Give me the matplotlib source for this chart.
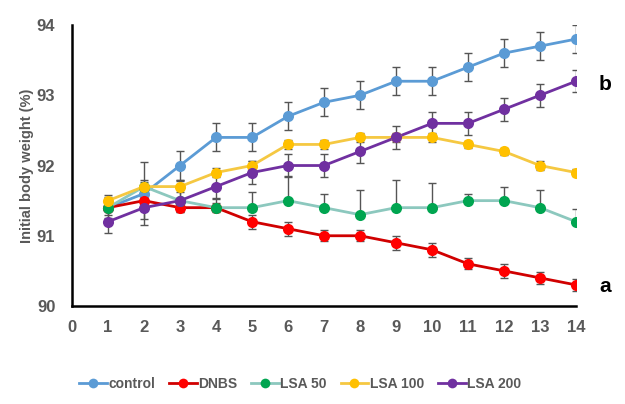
import matplotlib
matplotlib.use("Agg")
import matplotlib.pyplot as plt
from matplotlib.lines import Line2D
import numpy as np

days = list(range(1, 15))
control = [91.4, 91.6, 92.0, 92.4, 92.4, 92.7, 92.9, 93.0, 93.2, 93.2, 93.4, 93.6, 93.7, 93.8]
control_err = [0.15, 0.45, 0.2, 0.2, 0.2, 0.2, 0.2, 0.2, 0.2, 0.2, 0.2, 0.2, 0.2, 0.2]
dnbs = [91.4, 91.5, 91.4, 91.4, 91.2, 91.1, 91.0, 91.0, 90.9, 90.8, 90.6, 90.5, 90.4, 90.3]
dnbs_err = [0.1, 0.1, 0.06, 0.06, 0.1, 0.1, 0.08, 0.08, 0.1, 0.1, 0.08, 0.1, 0.08, 0.08]
lsa50 = [91.4, 91.7, 91.5, 91.4, 91.4, 91.5, 91.4, 91.3, 91.4, 91.4, 91.5, 91.5, 91.4, 91.2]
lsa50_err = [0.05, 0.1, 0.3, 0.12, 0.22, 0.35, 0.2, 0.35, 0.4, 0.35, 0.1, 0.2, 0.25, 0.18]
lsa100 = [91.5, 91.7, 91.7, 91.9, 92.0, 92.3, 92.3, 92.4, 92.4, 92.4, 92.3, 92.2, 92.0, 91.9]
lsa100_err = [0.08, 0.06, 0.08, 0.06, 0.06, 0.06, 0.06, 0.06, 0.06, 0.06, 0.05, 0.05, 0.06, 0.05]
lsa200 = [91.2, 91.4, 91.5, 91.7, 91.9, 92.0, 92.0, 92.2, 92.4, 92.6, 92.6, 92.8, 93.0, 93.2]
lsa200_err = [0.16, 0.16, 0.16, 0.16, 0.16, 0.16, 0.16, 0.16, 0.16, 0.16, 0.16, 0.16, 0.16, 0.16]

series_names = ["control", "DNBS", "LSA 50", "LSA 100", "LSA 200"]
line_colors = ["#5B9BD5", "#D00000", "#8CC8BE", "#F5C842", "#7030A0"]
marker_colors = ["#5B9BD5", "#FF0000", "#00A550", "#FFC000", "#7030A0"]

plt.rcParams['font.family'] = ['Liberation Sans', 'DejaVu Sans']
fig = plt.figure(figsize=(6.25, 4.04), dpi=100)
ax = fig.add_axes([0.1152, 0.2426, 0.8064, 0.6954])

data = [(control, control_err, False), (dnbs, dnbs_err, False), (lsa50, lsa50_err, True),
        (lsa100, lsa100_err, False), (lsa200, lsa200_err, False)]
for (vals, err, upper_only), lc, mc in zip(data, line_colors, marker_colors):
    vals = np.array(vals); err = np.array(err)
    yerr = [np.zeros_like(err), err] if upper_only else err
    ax.errorbar(days, vals, yerr=yerr, fmt='none', ecolor='#555555', elinewidth=1,
                capsize=3, capthick=1, zorder=2)
    ax.plot(days, vals, color=lc, lw=2, zorder=3)
    ax.plot(days, vals, 'o', color=mc, markersize=8, zorder=4, markeredgewidth=0)

ax.set_xlim(0, 14)
ax.set_ylim(90, 94)
ax.set_xticks(range(0, 15))
ax.set_yticks([90, 91, 92, 93, 94])
for s in ['top', 'right']:
    ax.spines[s].set_visible(False)
for s in ['left', 'bottom']:
    ax.spines[s].set_linewidth(1.8)
    ax.spines[s].set_color('black')
ax.tick_params(axis='both', length=0, labelsize=12, labelcolor='#595959')
ax.tick_params(axis='x', pad=10)
ax.tick_params(axis='y', pad=12)
for lbl in ax.get_xticklabels() + ax.get_yticklabels():
    lbl.set_fontweight('bold')
ax.set_ylabel("Initial body weight (%)", fontsize=10.5, fontweight='bold', color='#595959')
ax.yaxis.set_label_coords(-0.075, 0.5)

ax.text(14.8, 93.15, "b", fontsize=15, fontweight='bold', va='center', ha='center', clip_on=False)
ax.text(14.8, 90.28, "a", fontsize=15, fontweight='bold', va='center', ha='center', clip_on=False)

handles = [Line2D([0], [0], color=lc, lw=2, marker='o', markerfacecolor=mc, markeredgewidth=0, markersize=7)
           for lc, mc in zip(line_colors, marker_colors)]
leg = fig.legend(handles, series_names, loc='center', bbox_to_anchor=(0.48, 0.05), ncol=5, frameon=False,
                 fontsize=10, handlelength=2.0, columnspacing=1.0, handletextpad=0.1)
for t in leg.get_texts():
    t.set_fontweight('bold')
    t.set_color('#595959')

fig.savefig("out.png", dpi=100)
